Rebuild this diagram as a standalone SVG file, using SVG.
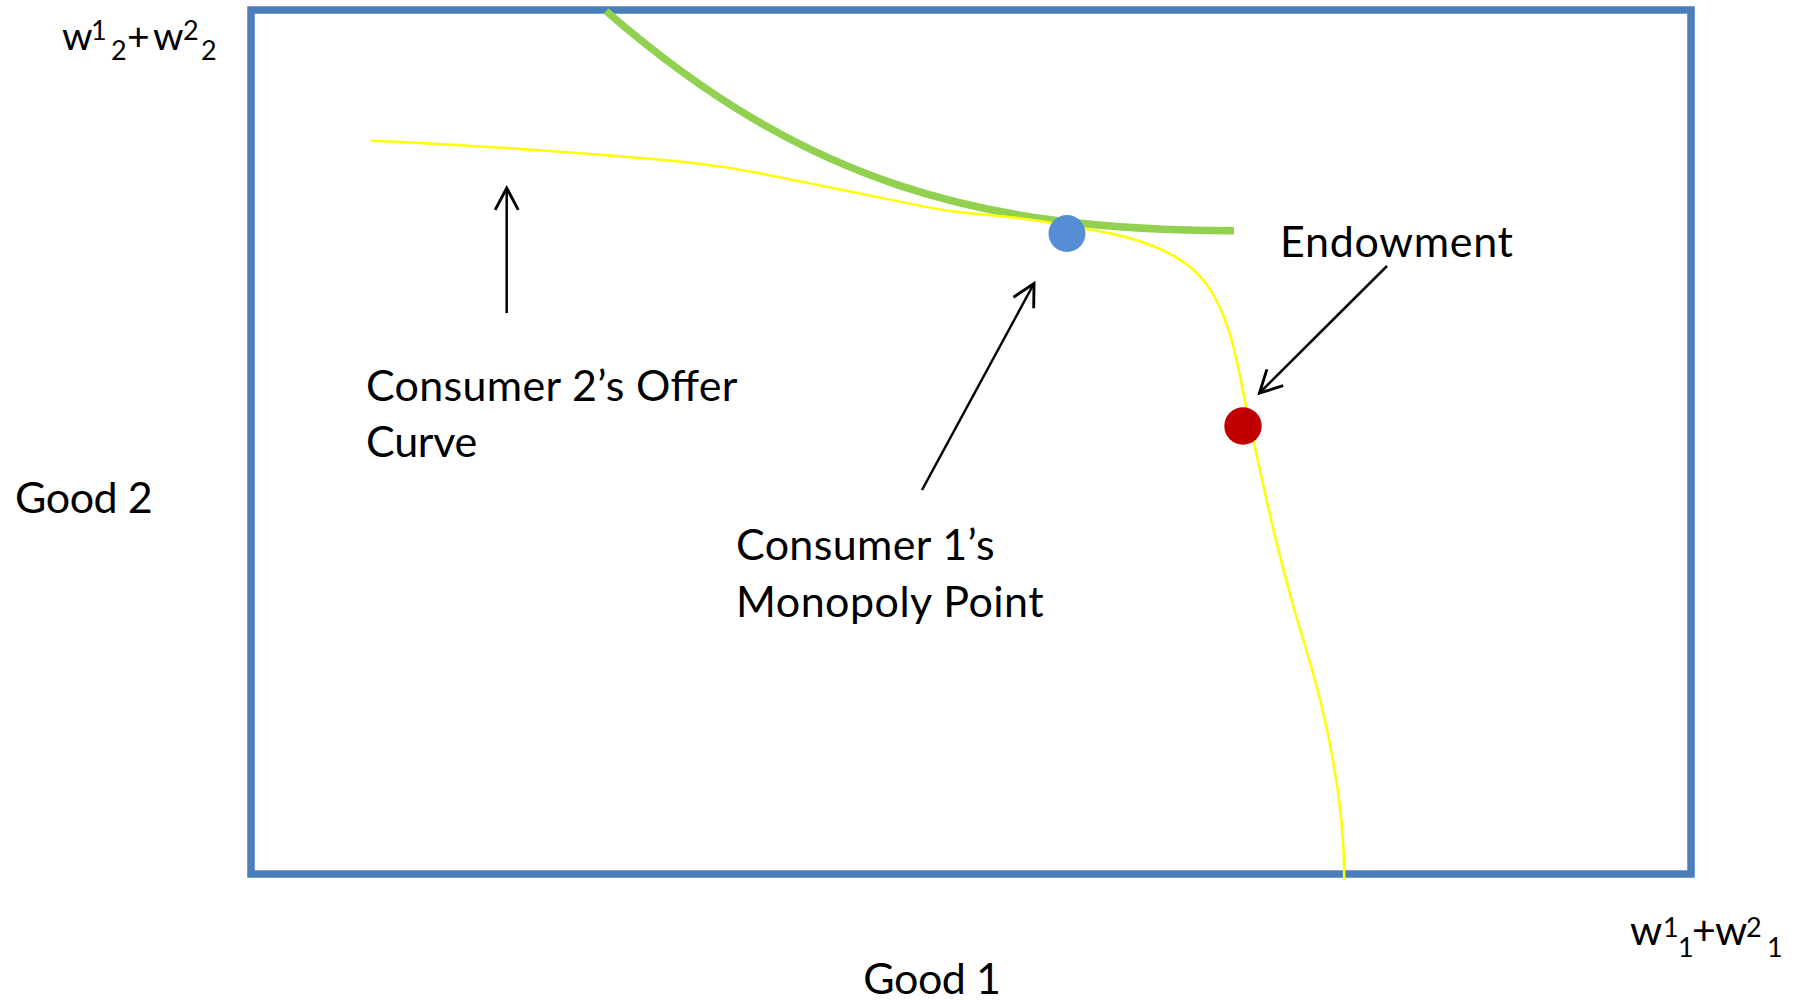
<svg xmlns="http://www.w3.org/2000/svg" width="1805" height="1000" viewBox="0 0 1805 1000">
  <style>
    .lbl { font-family: Lato, "Liberation Sans", sans-serif; font-size: 43px; fill: #000; }
    .ax { font-family: Lato, "Liberation Sans", sans-serif; font-size: 39px; fill: #000; }
    .ax2 { font-family: Lato, "Liberation Sans", sans-serif; font-size: 41px; fill: #000; }
    .sc { font-size: 27px; }
    .arrow { fill: none; stroke: #000; stroke-width: 2.5; marker-end: url(#head); }
  </style>
  <defs>
    <marker id="head" markerUnits="userSpaceOnUse" markerWidth="30" markerHeight="30" viewBox="-22 -13 26 26" refX="0" refY="0" orient="auto" overflow="visible">
      <path d="M-19,-10 L0,0 L-19,10" fill="none" stroke="#000" stroke-width="2.5"/>
    </marker>
  </defs>
  <rect width="1805" height="1000" fill="#ffffff"/>

  <g id="edgeworth-box">
    <rect x="251" y="10" width="1440" height="864" fill="none" stroke="#4a7ebb" stroke-width="7.5"/>
  </g>

  <g id="indifference-curve">
    <path d="M606,11 C806,185 984,230.7 1234,230.7" fill="none" stroke="#92d050" stroke-width="7.5"/>
  </g>

  <g id="offer-curve">
    <path d="M371,140.7 L415.5,142.85 Q460,145 510,148.35 Q560,151.7 610,155.5 Q660,159.3 693.5,163 Q727,166.7 760,173.35 Q793,180 826.5,186.65 Q860,193.3 895,200.65 Q930,208 947.5,210.5 Q965,213 996,215.65 Q1027,218.3 1060,224.15 Q1093,230 1110,233.35 Q1127,236.7 1143.5,242.5 Q1160,248.3 1173.5,255.8 Q1187,263.3 1197,273.3 Q1207,283.3 1213.5,295 Q1220,306.7 1225,320 Q1230,333.3 1234.15,350 Q1238.3,366.7 1242.5,388.35 L1246.7,410 C1263.6,487 1279.4,563 1303.3,640 C1328.1,720 1344.3,800 1344.3,880" fill="none" stroke="#ffff00" stroke-width="2.5"/>
  </g>

  <g id="monopoly-point">
    <circle cx="1067" cy="233.5" r="18.5" fill="#558ed5"/>
  </g>

  <g id="endowment-point">
    <circle cx="1243" cy="426" r="18.7" fill="#c00000"/>
  </g>

  <g id="connectors">
    <path class="arrow" d="M506.7,313 L506.7,188"/>
    <path class="arrow" d="M922,490 L1034,283.5"/>
    <path class="arrow" d="M1387,266 L1259.5,393"/>
  </g>

  <g id="label-endowment">
    <text class="lbl" x="1280" y="257.3" textLength="233">Endowment</text>
  </g>
  <g id="label-offer-curve">
    <text class="lbl" x="366" y="400.7" textLength="371.5">Consumer 2’s Offer</text>
    <text class="lbl" x="366" y="456.7" textLength="111.3">Curve</text>
  </g>
  <g id="label-monopoly">
    <text class="lbl" x="736" y="560" textLength="258.7">Consumer 1’s</text>
    <text class="lbl" x="736" y="616.7" textLength="307.7">Monopoly Point</text>
  </g>
  <g id="label-good2">
    <text class="lbl" x="15" y="513.3" textLength="137.7">Good 2</text>
  </g>
  <g id="label-good1">
    <text class="lbl" x="863.3" y="993.5" textLength="137.7">Good 1</text>
  </g>
  <g id="label-top">
    <text class="ax"><tspan x="62" y="50">w</tspan><tspan class="sc" x="91" y="40">1</tspan><tspan class="sc" x="111" y="60">2</tspan><tspan x="127" y="50">+</tspan><tspan x="153" y="50">w</tspan><tspan class="sc" x="183" y="40">2</tspan><tspan class="sc" x="201" y="60">2</tspan></text>
  </g>
  <g id="label-bottom">
    <text class="ax2"><tspan x="1630" y="945">w</tspan><tspan class="sc" x="1663" y="936.7">1</tspan><tspan class="sc" x="1678" y="956.7">1</tspan><tspan x="1692" y="945">+</tspan><tspan x="1715" y="945">w</tspan><tspan class="sc" x="1746" y="936.7">2</tspan><tspan class="sc" x="1767" y="956.7">1</tspan></text>
  </g>
</svg>
